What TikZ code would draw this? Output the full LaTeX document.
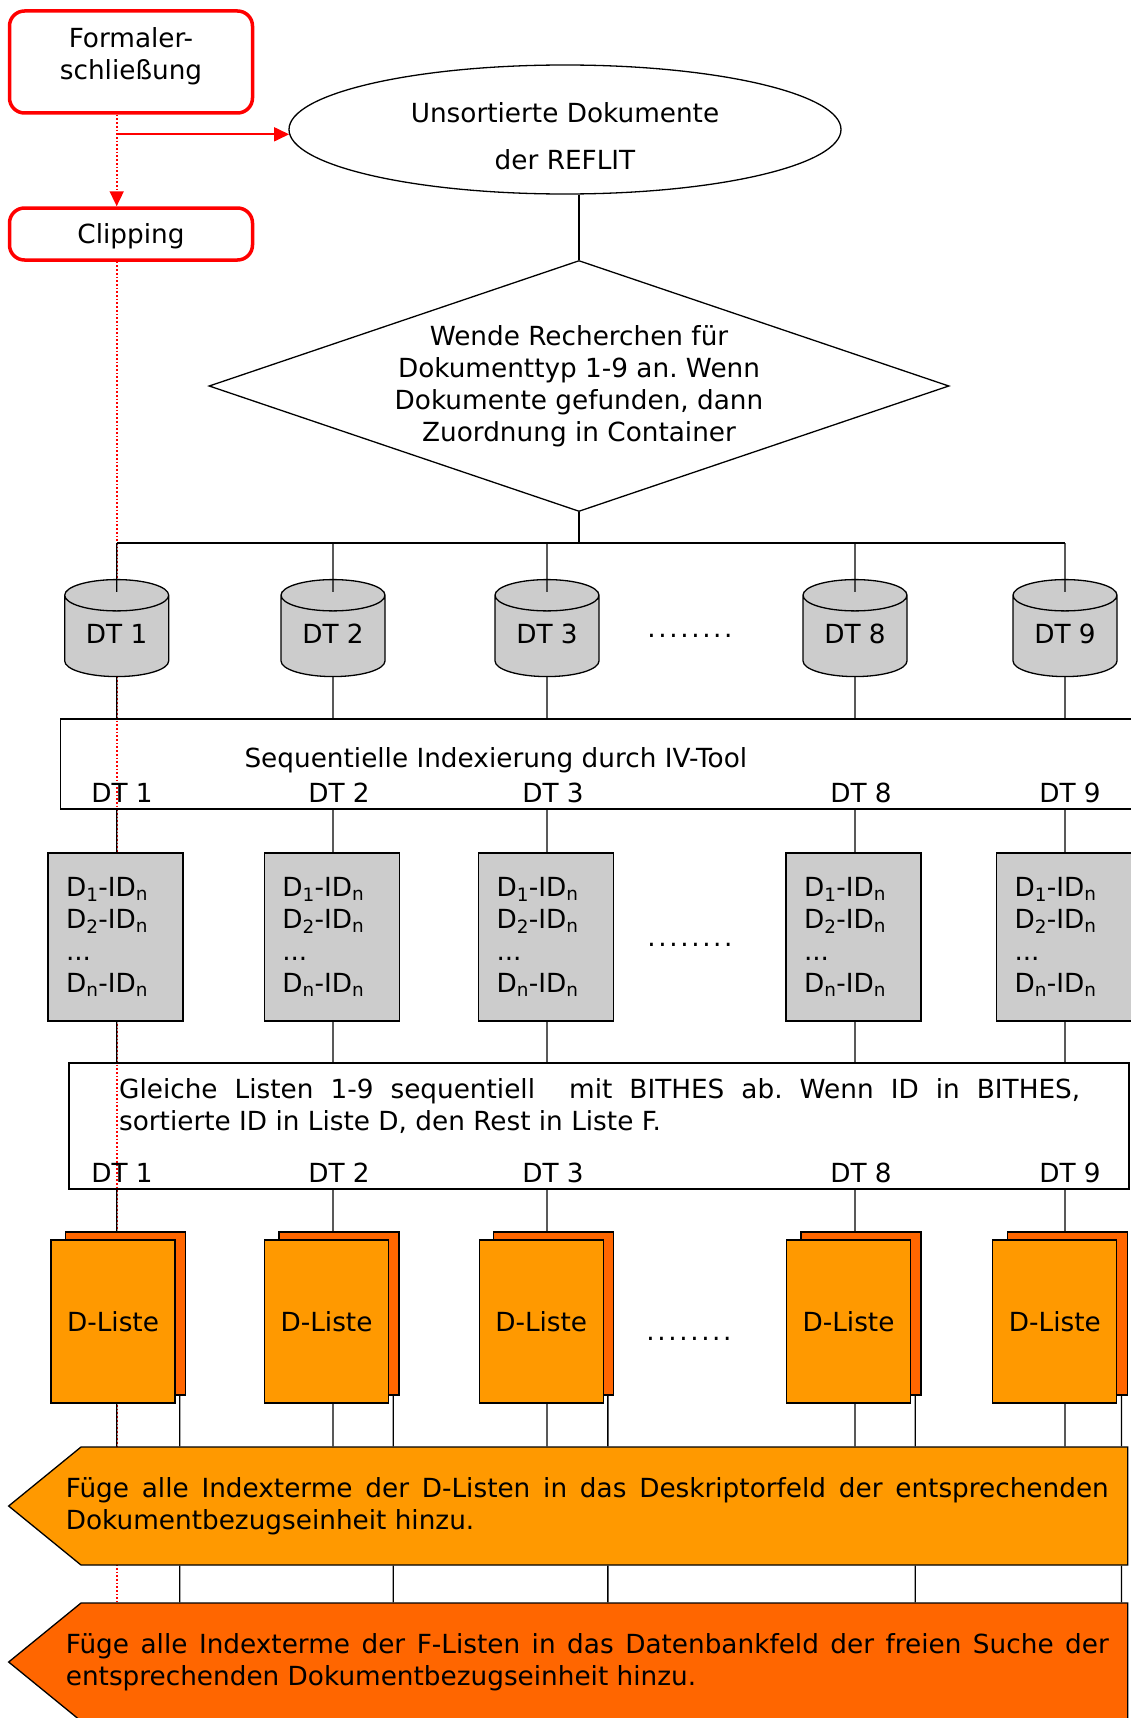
\documentclass[tikz,border=0pt]{standalone}
\usepackage{fontspec}
\setmainfont{DejaVu Sans}
\usepackage{tikz}
\usetikzlibrary{shapes.geometric, shapes.symbols, arrows.meta, positioning, backgrounds}
\frenchspacing

\definecolor{redline}{HTML}{FF0000}
\definecolor{lightorange}{HTML}{FF9900}
\definecolor{darkorange}{HTML}{FF6600}
\definecolor{listgray}{HTML}{CCCCCC}

\newcommand{\idlines}{D\textsubscript{1}-ID\textsubscript{n}\\D\textsubscript{2}-ID\textsubscript{n}\\...\\D\textsubscript{n}-ID\textsubscript{n}}
\newcommand{\dotrow}{.\kern2.6pt.\kern2.6pt.\kern2.6pt.\kern2.6pt.\kern2.6pt.\kern2.6pt.\kern2.6pt.}

\tikzset{
  redbox/.style={draw=redline, line width=3.5pt, rounded corners=15pt, minimum width=243pt},
  dtcyl/.style={cylinder, shape border rotate=90, aspect=0.46, draw, line width=1.3pt, fill=listgray, minimum width=104pt, minimum height=97pt, text depth=10pt},
  idlist/.style={draw, line width=1.3pt, fill=listgray, minimum width=135pt, minimum height=168pt, text width=99pt, inner xsep=18pt, align=left},
  stackback/.style={draw, line width=1.3pt, fill=darkorange, minimum width=120pt, minimum height=163pt},
  stackfront/.style={draw, line width=1.3pt, fill=lightorange, minimum width=124pt, minimum height=163pt},
  arrowbox/.style={signal, signal to=west, signal pointer angle=78.4, draw, line width=1.3pt, minimum height=118pt, inner xsep=18.85pt},
  conn/.style={line width=1.3pt},
  reddot/.style={draw=redline, line width=1.7pt, dotted}
}

\begin{document}
\begin{tikzpicture}[x=1pt, y=-1pt, font=\fontsize{26.3}{32}\selectfont, >={Triangle[length=15pt, width=14pt]}]
\useasboundingbox (0,0) rectangle (1131,1718);
\clip (0,0) rectangle (1131,1718);
% Red boxes on the left
\node [redbox, minimum height=102pt, align=center, text depth=16pt] (formal) at (131,62) {Formaler-\\schließung};
\node [redbox, minimum height=52pt, text depth=0pt] (clip) at (131,234) {Clipping};
\coordinate (redend) at (116.7,1602);
\draw [reddot, ->] (formal.south -| redend) -- (clip.north -| redend);
\draw [reddot] (clip.south -| redend) -- (redend);
% Start and search
\node [ellipse, draw, line width=1.3pt, minimum width=552pt, minimum height=129pt, inner sep=0pt, align=center, text height=81pt] (ell) at (565,129.5) {Unsortierte Dokumente\\[15pt]der REFLIT};
\node [diamond, draw, line width=1.3pt, shape aspect=2.95, minimum width=740pt, minimum height=251pt, inner sep=0pt, align=center] (search) at (579,386) {Wende Recherchen für\\Dokumenttyp 1-9 an. Wenn\\Dokumente gefunden, dann\\Zuordnung in Container};
\coordinate (bus) at (579,543);
% Containers
\node [dtcyl] (dt1) at (116.7,639) {DT 1};
\node [dtcyl] (dt2) at (333,639) {DT 2};
\node [dtcyl] (dt3) at (547,639) {DT 3};
\node [anchor=base] (dots1) at (690,637) {\dotrow};
\node [dtcyl] (dt8) at (855,639) {DT 8};
\node [dtcyl] (dt9) at (1065,639) {DT 9};
% Indexing
\node [draw, line width=1.3pt, minimum width=1080pt, minimum height=90pt] (seq) at (600.5,764) {};
\node [anchor=base west] (seqtext) at (241,767) {Sequentielle Indexierung durch IV-Tool};
\node [anchor=base] (seq1) at (122,802) {DT 1};
\node [anchor=base] (seq2) at (339,802) {DT 2};
\node [anchor=base] (seq3) at (553,802) {DT 3};
\node [anchor=base] (seq8) at (861,802) {DT 8};
\node [anchor=base] (seq9) at (1070,802) {DT 9};
% ID lists
\node [idlist] (ls1) at (115.5,937) {\idlines};
\node [idlist] (ls2) at (331.75,937) {\idlines};
\node [idlist] (ls3) at (546,937) {\idlines};
\node [anchor=base] (dots2) at (690,946) {\dotrow};
\node [idlist] (ls8) at (853.5,937) {\idlines};
\node [idlist] (ls9) at (1064,937) {\idlines};
% Compare with BITHES
\node [draw, line width=1.3pt, minimum width=1060pt, minimum height=126pt] (sort) at (599,1126) {};
\node [anchor=base west] (sorttext) at (115.6,1098) {\parbox[t]{961pt}{Gleiche Listen 1-9 sequentiell \ mit BITHES ab. Wenn ID in BITHES,\linebreak sortierte ID in Liste D, den Rest in Liste F.}};
\node [anchor=base] (sort1) at (122,1182) {DT 1};
\node [anchor=base] (sort2) at (339,1182) {DT 2};
\node [anchor=base] (sort3) at (553,1182) {DT 3};
\node [anchor=base] (sort8) at (861,1182) {DT 8};
\node [anchor=base] (sort9) at (1070,1182) {DT 9};
% D-Listen
\node [stackback] (bk1) at (125.5,1313.5) {};
\node [stackfront] (fr1) at ([shift={(-12.5,8)}]bk1) {D-Liste};
\node [stackback] (bk2) at (339,1313.5) {};
\node [stackfront] (fr2) at ([shift={(-12.5,8)}]bk2) {D-Liste};
\node [stackback] (bk3) at (553.7,1313.5) {};
\node [stackfront] (fr3) at ([shift={(-12.5,8)}]bk3) {D-Liste};
\node [anchor=base] (dots3) at (689,1340) {\dotrow};
\node [stackback] (bk8) at (861,1313.5) {};
\node [stackfront] (fr8) at ([shift={(-12.5,8)}]bk8) {D-Liste};
\node [stackback] (bk9) at (1067.3,1313.5) {};
\node [stackfront] (fr9) at ([shift={(-12.5,8)}]bk9) {D-Liste};
% Final steps
\node [arrowbox, fill=lightorange] (dlist) at (604.35,1506) {\hspace*{-34pt}\parbox{1043pt}{Füge alle Indexterme der D-Listen in das Deskriptorfeld der entsprechenden\linebreak Dokumentbezugseinheit hinzu.}};
\node [arrowbox, fill=darkorange] (flist) at (604.35,1662) {\hspace*{-34pt}\parbox{1043pt}{Füge alle Indexterme der F-Listen in das Datenbankfeld der freien Suche der\linebreak entsprechenden Dokumentbezugseinheit hinzu.}};
\coordinate (bt1) at ([xshift=-6.5pt]bk1.south east);
\coordinate (bt2) at ([xshift=-6.5pt]bk2.south east);
\coordinate (bt3) at ([xshift=-6.5pt]bk3.south east);
\coordinate (bt8) at ([xshift=-6.5pt]bk8.south east);
\coordinate (bt9) at ([xshift=-6.5pt]bk9.south east);
% Connections
\draw [conn] (ell.south -| search.north) -- (search.north);
\draw [conn] (search.south) -- (bus) (bus -| dt1) -- (bus -| dt9);
\draw [conn] (bus -| dt1) -- ([yshift=-13pt]dt1.north) (dt1.south) -- (seq.north -| dt1) (seq.south -| dt1) -- (ls1.north -| dt1)
  (ls1.south -| dt1) -- (sort.north -| dt1) (sort.south -| dt1) -- (bk1.north -| dt1) (fr1.south -| dt1) -- (dlist.north -| dt1)
  (bt1) -- (bt1 |- dlist.north) (bt1 |- dlist.south) -- (bt1 |- flist.north);
\draw [conn] (bus -| dt2) -- ([yshift=-13pt]dt2.north) (dt2.south) -- (seq.north -| dt2) (seq.south -| dt2) -- (ls2.north -| dt2)
  (ls2.south -| dt2) -- (sort.north -| dt2) (sort.south -| dt2) -- (bk2.north -| dt2) (fr2.south -| dt2) -- (dlist.north -| dt2)
  (bt2) -- (bt2 |- dlist.north) (bt2 |- dlist.south) -- (bt2 |- flist.north);
\draw [conn] (bus -| dt3) -- ([yshift=-13pt]dt3.north) (dt3.south) -- (seq.north -| dt3) (seq.south -| dt3) -- (ls3.north -| dt3)
  (ls3.south -| dt3) -- (sort.north -| dt3) (sort.south -| dt3) -- (bk3.north -| dt3) (fr3.south -| dt3) -- (dlist.north -| dt3)
  (bt3) -- (bt3 |- dlist.north) (bt3 |- dlist.south) -- (bt3 |- flist.north);
\draw [conn] (bus -| dt8) -- ([yshift=-13pt]dt8.north) (dt8.south) -- (seq.north -| dt8) (seq.south -| dt8) -- (ls8.north -| dt8)
  (ls8.south -| dt8) -- (sort.north -| dt8) (sort.south -| dt8) -- (bk8.north -| dt8) (fr8.south -| dt8) -- (dlist.north -| dt8)
  (bt8) -- (bt8 |- dlist.north) (bt8 |- dlist.south) -- (bt8 |- flist.north);
\draw [conn] (bus -| dt9) -- ([yshift=-13pt]dt9.north) (dt9.south) -- (seq.north -| dt9) (seq.south -| dt9) -- (ls9.north -| dt9)
  (ls9.south -| dt9) -- (sort.north -| dt9) (sort.south -| dt9) -- (bk9.north -| dt9) (fr9.south -| dt9) -- (dlist.north -| dt9)
  (bt9) -- (bt9 |- dlist.north) (bt9 |- dlist.south) -- (bt9 |- flist.north);
\draw [draw=redline, line width=1.7pt, ->] (redend |- ell.181) -- (ell.181);
\end{tikzpicture}
\end{document}
